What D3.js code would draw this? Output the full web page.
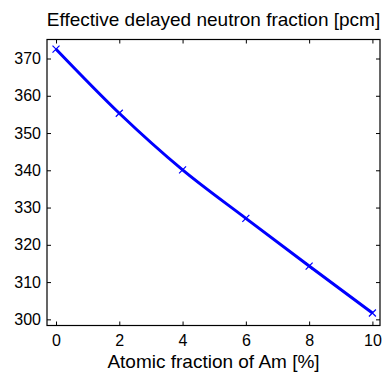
<!DOCTYPE html>
<html>
<head>
<meta charset="utf-8">
<script src="https://cdn.jsdelivr.net/npm/d3@7"></script>
<style>
  html, body { margin: 0; padding: 0; background: #fff; }
  svg { display: block; }
  text { font-family: "Liberation Sans", Arial, Helvetica, sans-serif; fill: #000; }
</style>
</head>
<body>
<svg id="chart" width="387" height="378"></svg>
<script>
// Americium content (atomic %) and the resulting beta-effective (pcm)
const amFraction = [0, 2, 4, 6, 8, 10];
const betaEff = [372.5, 355.3, 340.1, 327.1, 314.3, 301.7];

const xTicks = [0, 2, 4, 6, 8, 10];
const yTicks = [300, 310, 320, 330, 340, 350, 360, 370];
const xLimits = [-0.285, 10.24];
const yLimits = [298.35, 375.1];

const titleText = "Effective delayed neutron fraction [pcm]";
const xLabelText = "Atomic fraction of Am [%]";

const box = { left: 47, right: 380, top: 39.5, bottom: 325.5 };

const svg = d3.select("#chart");

const x = d3.scaleLinear().domain(xLimits).range([box.left, box.right]);
const y = d3.scaleLinear().domain(yLimits).range([box.bottom, box.top]);

const tickLen = 4;
const tickFont = 16;

// bottom axis with labels, top axis mirrored without labels (ticks point inward)
const gx = svg.append("g").attr("transform", `translate(0,${box.bottom})`)
  .call(d3.axisBottom(x).tickValues(xTicks).tickSizeInner(-tickLen).tickSizeOuter(0).tickPadding(9));
const gxTop = svg.append("g").attr("transform", `translate(0,${box.top})`)
  .call(d3.axisTop(x).tickValues(xTicks).tickSizeInner(-tickLen).tickSizeOuter(0).tickFormat(""));
const gy = svg.append("g").attr("transform", `translate(${box.left},0)`)
  .call(d3.axisLeft(y).tickValues(yTicks).tickSizeInner(-tickLen).tickSizeOuter(0).tickPadding(6));
const gyRight = svg.append("g").attr("transform", `translate(${box.right},0)`)
  .call(d3.axisRight(y).tickValues(yTicks).tickSizeInner(-tickLen).tickSizeOuter(0).tickFormat(""));

[gx, gxTop, gy, gyRight].forEach(g => {
  g.select(".domain").remove();
  g.selectAll(".tick line").attr("stroke", "#000").attr("stroke-width", 1);
  g.selectAll(".tick text")
    .style("font-family", '"Liberation Sans", Arial, sans-serif')
    .style("font-size", tickFont + "px")
    .attr("fill", "#000");
});

// axes frame
svg.append("rect")
  .attr("x", box.left).attr("y", box.top)
  .attr("width", box.right - box.left).attr("height", box.bottom - box.top)
  .attr("fill", "none").attr("stroke", "#000").attr("stroke-width", 1.2);

// curve through the computed points
const line = d3.line()
  .x((d, i) => x(amFraction[i]))
  .y(d => y(d))
  .curve(d3.curveMonotoneX);

svg.append("path")
  .datum(betaEff)
  .attr("d", line)
  .attr("fill", "none")
  .attr("stroke", "#0000ff")
  .attr("stroke-width", 3)
  .attr("stroke-linejoin", "round");

// cross markers at each computed point
const m = 3.5;
const markers = svg.append("g");
betaEff.forEach((v, i) => {
  const cx = x(amFraction[i]), cy = y(v);
  markers.append("path")
    .attr("d", `M${cx - m},${cy - m}L${cx + m},${cy + m}M${cx - m},${cy + m}L${cx + m},${cy - m}`)
    .attr("stroke", "#0000ff").attr("stroke-width", 1.2).attr("fill", "none");
});

// title and x-axis label
svg.append("text")
  .attr("x", (box.left + box.right) / 2).attr("y", 26)
  .attr("text-anchor", "middle")
  .style("font-size", "19px")
  .text(titleText);

svg.append("text")
  .attr("x", (box.left + box.right) / 2).attr("y", 368)
  .attr("text-anchor", "middle")
  .style("font-size", "19px")
  .text(xLabelText);
</script>
</body>
</html>
